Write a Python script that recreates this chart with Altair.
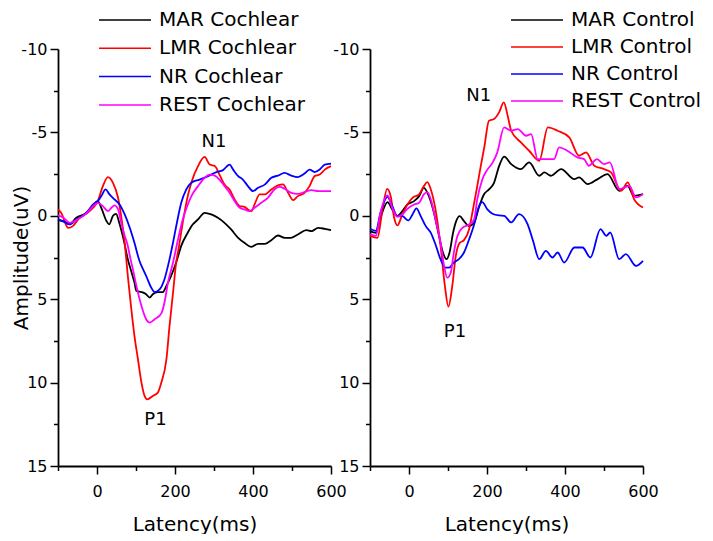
import altair as alt
import pandas as pd

FONT = "DejaVu Sans"
COLORS = ["#000000", "#ff0000", "#0000ff", "#ff00ff"]

# ---------------- Cochlear panel ----------------
coch_names = ["MAR Cochlear", "LMR Cochlear", "NR Cochlear", "REST Cochlear"]

coch_mar_x = [-100, -85, -70, -53, -27, -15, 2, 11, 24, 31, 41, 49, 57, 68, 79, 90, 96, 101, 114, 126, 135, 143, 156, 169, 178, 190, 203, 216, 233, 242, 259, 276, 293, 310, 327, 344, 362, 378, 396, 413, 430, 447, 464, 481, 498, 515, 537, 550, 567, 584, 600]
coch_mar_y = [0.25, 0.35, 0.48, 0.12, -0.18, -0.48, -0.88, -0.48, 0.3, 0.52, 0.0, -0.12, 0.42, 1.4, 2.6, 3.5, 4.0, 4.5, 4.57, 4.7, 4.9, 4.7, 4.57, 4.57, 4.2, 3.6, 2.8, 1.8, 1.0, 0.62, 0.22, -0.18, -0.08, 0.12, 0.42, 0.82, 1.32, 1.62, 1.86, 1.68, 1.68, 1.46, 1.18, 1.32, 1.32, 1.12, 0.86, 0.92, 0.72, 0.78, 0.86]

coch_lmr_x = [-100, -92, -74, -62, -45, -27, -10, 2, 15, 28, 41, 54, 62, 71, 79, 88, 96, 105, 114, 122, 129, 143, 156, 165, 178, 186, 195, 203, 209, 220, 231, 242, 259, 276, 289, 302, 314, 327, 340, 353, 366, 378, 387, 396, 404, 417, 430, 447, 464, 477, 490, 503, 515, 532, 545, 558, 571, 584, 600]
coch_lmr_y = [-0.38, -0.18, 0.72, 0.62, 0.12, -0.14, -0.48, -0.88, -1.78, -2.32, -1.98, -1.08, 0.02, 1.62, 3.6, 5.6, 7.2, 8.6, 10.0, 10.8, 11.0, 10.8, 10.6, 10.0, 8.6, 6.6, 4.6, 2.8, 2.0, 0.4, -1.0, -2.0, -2.98, -3.53, -3.07, -2.98, -2.47, -1.87, -1.57, -0.98, -0.58, -0.54, -0.38, -0.28, -0.68, -1.28, -1.28, -1.58, -1.82, -1.88, -1.38, -0.94, -1.18, -1.38, -1.78, -2.38, -2.47, -2.77, -2.98]

coch_nr_x = [-100, -87, -70, -53, -27, -10, 2, 11, 22, 32, 45, 58, 71, 84, 96, 109, 120, 126, 139, 148, 161, 173, 186, 195, 205, 216, 229, 242, 263, 285, 306, 323, 340, 349, 362, 374, 387, 400, 413, 430, 447, 464, 481, 498, 515, 532, 545, 558, 571, 584, 600]
coch_nr_y = [0.22, 0.32, 0.52, 0.22, -0.18, -0.68, -0.88, -1.18, -1.58, -1.28, -0.98, -0.68, -0.08, 0.72, 1.62, 2.71, 3.3, 3.6, 4.3, 4.57, 4.4, 3.8, 2.6, 1.6, 0.4, -0.78, -1.58, -1.98, -2.17, -2.38, -2.62, -2.74, -3.07, -2.77, -2.38, -2.17, -1.78, -1.48, -1.68, -1.87, -2.28, -2.41, -2.57, -2.41, -2.32, -2.53, -2.77, -2.62, -2.77, -3.07, -3.13]

coch_rest_x = [-100, -87, -70, -53, -27, -10, 2, 15, 28, 37, 45, 54, 62, 71, 78, 86, 92, 101, 114, 126, 135, 148, 165, 173, 182, 195, 206, 220, 230, 242, 259, 276, 289, 302, 314, 327, 340, 353, 366, 378, 391, 404, 421, 438, 455, 468, 481, 498, 515, 532, 550, 567, 600]
coch_rest_y = [-0.02, 0.1, 0.42, 0.26, -0.14, -0.58, -0.78, -0.58, -0.28, -0.48, -0.62, -0.38, 0.42, 1.2, 1.7, 2.6, 3.2, 4.2, 5.4, 6.2, 6.4, 6.2, 5.85, 5.2, 4.0, 2.8, 1.6, 0.2, -0.5, -1.18, -1.78, -2.28, -2.47, -2.41, -2.17, -1.78, -1.38, -0.88, -0.48, -0.38, -0.28, -0.48, -0.78, -1.08, -1.58, -1.74, -1.62, -1.38, -1.32, -1.42, -1.54, -1.48, -1.48]

coch_ann_label = ["N1", "P1"]
coch_ann_x = [300, 150]
coch_ann_y = [-4.4, 12.25]

# ---------------- Control panel ----------------
ctrl_names = ["MAR Control", "LMR Control", "NR Control", "REST Control"]

ctrl_mar_x = [-100, -85, -73, -55, -43, -30, -17, -4, 13, 26, 38, 51, 64, 77, 87, 96, 104, 113, 121, 130, 141, 154, 167, 179, 192, 205, 218, 231, 244, 262, 287, 308, 334, 347, 364, 390, 424, 436, 458, 484, 509, 539, 560, 577, 600]
ctrl_mar_y = [0.92, 1.02, 0.12, -0.82, -0.38, 0.02, -0.28, -0.68, -0.88, -1.18, -1.68, -1.18, -0.18, 1.22, 2.2, 2.6, 2.2, 1.02, 0.32, 0.02, 0.32, 0.62, 0.42, -0.48, -1.28, -1.58, -1.98, -2.98, -3.55, -3.1, -2.8, -3.2, -2.4, -2.6, -2.4, -2.8, -2.2, -2.3, -1.9, -2.2, -2.5, -1.5, -1.8, -1.2, -1.3]

ctrl_lmr_x = [-100, -81, -68, -56, -47, -38, -30, -17, -4, 9, 26, 38, 47, 56, 68, 81, 92, 101, 111, 120, 130, 141, 154, 164, 175, 184, 193, 205, 218, 231, 243, 253, 262, 287, 308, 334, 356, 381, 411, 436, 454, 475, 500, 518, 544, 561, 577, 600]
ctrl_lmr_y = [1.2, 1.32, -0.38, -1.62, -1.18, 0.12, 0.58, -0.08, -0.68, -1.08, -1.28, -1.78, -2.02, -1.58, -0.38, 1.82, 4.2, 5.45, 4.2, 2.4, 1.62, 1.46, 0.82, -0.38, -1.78, -2.98, -4.1, -5.7, -5.8, -6.2, -6.8, -6.0, -5.1, -4.4, -3.9, -3.3, -5.3, -5.1, -4.7, -3.6, -3.8, -3.0, -2.8, -2.6, -1.5, -2.0, -1.0, -0.5]

ctrl_nr_x = [-100, -85, -73, -55, -43, -30, -17, -2, 9, 19, 30, 43, 56, 68, 81, 94, 103, 115, 128, 141, 154, 167, 178, 188, 201, 214, 231, 244, 262, 282, 304, 318, 334, 351, 368, 381, 398, 424, 445, 465, 491, 506, 516, 539, 556, 582, 600]
ctrl_nr_y = [0.78, 0.9, -0.2, -1.14, -0.58, 0.02, 0.02, 0.28, -0.08, -0.44, 0.02, 0.62, 1.02, 1.72, 2.62, 3.11, 3.11, 2.8, 2.6, 2.2, 1.42, 0.52, -0.48, -0.82, -0.38, -0.12, -0.02, 0.0, 0.4, -0.1, 0.5, 1.5, 2.6, 2.1, 2.5, 2.2, 2.8, 1.9, 1.9, 2.5, 0.8, 1.2, 1.0, 2.6, 2.3, 3.0, 2.7]

ctrl_rest_x = [-100, -85, -73, -55, -43, -30, -17, -4, 13, 26, 38, 47, 56, 68, 81, 90, 98, 107, 115, 124, 137, 154, 167, 175, 188, 201, 214, 226, 244, 262, 279, 300, 313, 330, 351, 372, 385, 406, 432, 449, 461, 482, 500, 515, 539, 565, 582, 600]
ctrl_rest_y = [1.1, 1.2, -0.2, -1.22, -0.48, 0.06, -0.08, -0.42, -0.68, -0.78, -1.28, -1.42, -0.98, 0.22, 1.62, 3.01, 3.71, 3.41, 2.2, 1.22, 0.72, 0.52, 0.22, -0.98, -2.18, -2.77, -3.17, -3.77, -5.3, -5.1, -5.2, -4.8, -4.9, -3.4, -3.4, -3.4, -4.1, -3.9, -3.5, -3.4, -3.0, -3.4, -3.1, -3.2, -1.6, -1.8, -1.1, -1.3]

ctrl_ann_label = ["N1", "P1"]
ctrl_ann_x = [179, 118]
ctrl_ann_y = [-7.2, 6.95]

X_TICKS = [-100, 0, 100, 200, 300, 400, 500, 600]
Y_TICKS = [-10, -7.5, -5, -2.5, 0, 2.5, 5, 7.5, 10, 12.5, 15]

X_MAJOR = "(datum.value == 0 || datum.value == 200 || datum.value == 400 || datum.value == 600)"


def make_df(names, xs_list, ys_list):
    frames = []
    for name, xs, ys in zip(names, xs_list, ys_list):
        frames.append(pd.DataFrame({"series": name, "latency": xs, "amp": ys}))
    return pd.concat(frames, ignore_index=True)


def x_axis():
    return alt.Axis(
        values=X_TICKS,
        format="d",
        labelExpr=X_MAJOR + " ? datum.label : ''",
        tickSize={"condition": {"test": X_MAJOR, "value": 8}, "value": 4.5},
        title="Latency(ms)",
        grid=False,
        domainColor="black", domainWidth=1.8,
        tickColor="black", tickWidth=1.5,
        labelFont=FONT, labelFontSize=16, labelColor="black", labelPadding=9,
        labelFlush=False, labelOverlap=False, labelAngle=0,
        titleFont=FONT, titleFontSize=20, titleFontWeight="normal", titleColor="black",
        titlePadding=15,
    )


def y_axis(with_title):
    kw = dict(
        values=Y_TICKS,
        labelExpr="datum.value % 5 === 0 ? '' + datum.value : ''",
        tickSize={"condition": {"test": "datum.value % 5 === 0", "value": 8}, "value": 4.5},
        grid=False,
        domainColor="black", domainWidth=1.8,
        tickColor="black", tickWidth=1.5,
        labelFont=FONT, labelFontSize=16, labelColor="black", labelPadding=3,
        labelFlush=False, labelOverlap=False,
    )
    if with_title:
        kw.update(title="Amplitude(uV)", titleFont=FONT, titleFontSize=20,
                  titleFontWeight="normal", titleColor="black", titlePadding=-11)
    else:
        kw.update(title=None)
    return alt.Axis(**kw)


def panel(names, xs_list, ys_list, ann_label, ann_x, ann_y, with_title, lx, ly, rowpad):
    df = make_df(names, xs_list, ys_list)
    ann = pd.DataFrame({"label": ann_label, "latency": ann_x, "amp": ann_y})
    xs = alt.Scale(domain=[-100, 600], nice=False, zero=False)
    ys = alt.Scale(domain=[-10, 15], nice=False, zero=False, reverse=True)
    xenc = alt.X("latency:Q", scale=xs, axis=x_axis())
    yenc = alt.Y("amp:Q", scale=ys, axis=y_axis(with_title))
    lines = alt.Chart(df).mark_line(strokeWidth=1.8, interpolate="monotone").encode(
        x=xenc,
        y=yenc,
        color=alt.Color(
            "series:N",
            scale=alt.Scale(domain=names, range=COLORS),
            sort=names,
            title=None,
            legend=alt.Legend(
                orient="none", legendX=lx, legendY=ly,
                symbolType="M-5,0H5", symbolSize=108, symbolStrokeWidth=1.5,
                labelFont=FONT, labelFontSize=20, labelColor="black",
                labelOffset=24, rowPadding=rowpad, padding=0, labelLimit=400,
            ),
        ),
    )
    text = alt.Chart(ann).mark_text(font=FONT, fontSize=18, color="black",
                                     align="center", baseline="middle").encode(
        x=xenc,
        y=yenc,
        text="label:N",
    )
    return alt.layer(lines, text).properties(width=273, height=417)


left = panel(coch_names,
             [coch_mar_x, coch_lmr_x, coch_nr_x, coch_rest_x],
             [coch_mar_y, coch_lmr_y, coch_nr_y, coch_rest_y],
             coch_ann_label, coch_ann_x, coch_ann_y, True, 57, -39, 8.3)
right = panel(ctrl_names,
              [ctrl_mar_x, ctrl_lmr_x, ctrl_nr_x, ctrl_rest_x],
              [ctrl_mar_y, ctrl_lmr_y, ctrl_nr_y, ctrl_rest_y],
              ctrl_ann_label, ctrl_ann_x, ctrl_ann_y, False, 157, -39, 7.0)

chart = alt.hconcat(left, right, spacing=39, bounds="flush").resolve_scale(
    color="independent"
).configure_view(stroke=None).properties(
    padding={"left": 3, "top": 2, "right": 0, "bottom": 0}, background="white"
)

chart.save("out.html", embed_options={"renderer": "svg", "actions": False})
